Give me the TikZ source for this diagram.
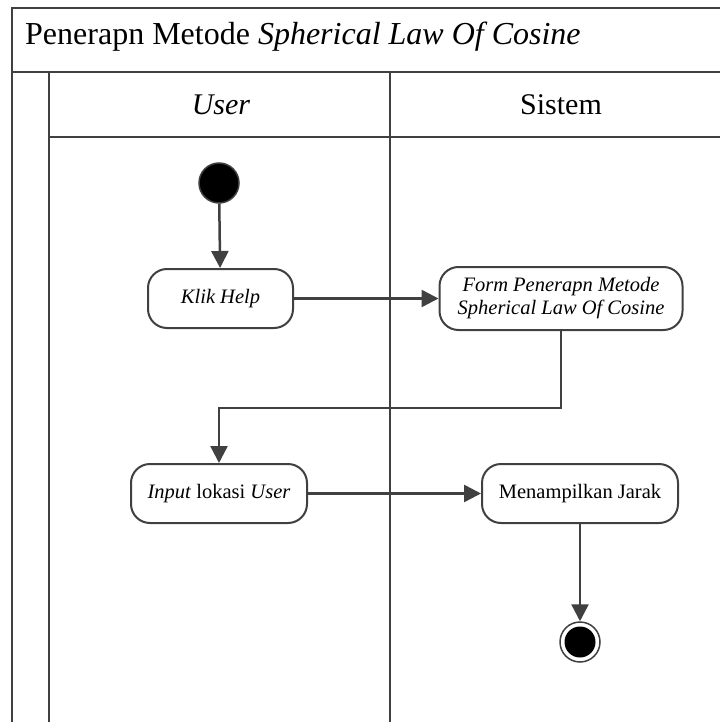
\documentclass[tikz,border=0pt]{standalone}
\usepackage{fontspec}
\setmainfont{Liberation Serif}
\usetikzlibrary{arrows.meta}
\definecolor{ink}{HTML}{404040}
\tikzset{
  frameline/.style={draw=ink, line width=2pt},
  lanehead/.style={anchor=base, inner sep=0pt, font=\fontsize{30}{34}\selectfont},
  action/.style={draw=ink, line width=2pt, rectangle, rounded corners=19pt,
    fill=white, align=center, inner sep=0pt, font=\fontsize{20.5}{23}\selectfont},
  flow/.style={draw=ink, line width=2.5pt, -{Triangle[length=17pt,width=17pt]}},
  startdot/.style={circle, fill=black, draw=ink, line width=1.5pt, minimum size=40pt, inner sep=0pt},
  enddot/.style={circle, fill=white, draw=ink, line width=1.5pt, minimum size=40pt, inner sep=0pt},
}
\begin{document}
\begin{tikzpicture}[x=1pt, y=-1pt]
  \useasboundingbox (0,0) rectangle (720,722);
  \fill[white] (0,0) rectangle (720,722);

  % swimlane frame
  \draw[frameline] (720,8) -- (12,8) -- (12,722);
  \draw[frameline] (12,72) -- (720,72);
  \draw[frameline] (49,72) -- (49,722);
  \draw[frameline] (49,137) -- (720,137);
  \draw[frameline] (390,72) -- (390,722);

  % titles
  \node[anchor=base west, inner sep=0pt, font=\fontsize{32}{36}\selectfont] (title) at (25,45)
    {Penerapn Metode \textit{Spherical Law Of Cosine}};
  \node[lanehead] (laneuser) at (221,115) {\textit{User}};
  \node[lanehead] (lanesys) at (561,115) {Sistem};

  % activities
  \node[startdot] (start) at (219,183) {};
  \node[action, minimum width=145pt, minimum height=59pt] (klik) at (220.5,298.5) {\textit{Klik Help}};
  \node[action, minimum width=243pt, minimum height=63pt] (form) at (561,298.5)
    {\textit{Form Penerapn Metode}\\\textit{Spherical Law Of Cosine}};
  \node[action, minimum width=176pt, minimum height=59pt] (input) at (219,493.5)
    {\textit{Input} lokasi \textit{User}};
  \node[action, minimum width=196pt, minimum height=59pt] (tampil) at (580,493.5) {Menampilkan Jarak};
  \node[enddot] (stop) at (580,642) {};
  \node[circle, fill=black, minimum size=31pt, inner sep=0pt] (stopcore) at (stop) {};

  % control flow
  \coordinate (bend) at (561,408);
  \draw[flow] (start) -- (klik);
  \draw[flow] (klik) -- (form);
  \draw[flow] (form.south) -- (bend) -| (input.north);
  \draw[flow] (input) -- (tampil);
  \draw[flow] (tampil) -- (stop);
\end{tikzpicture}
\end{document}
